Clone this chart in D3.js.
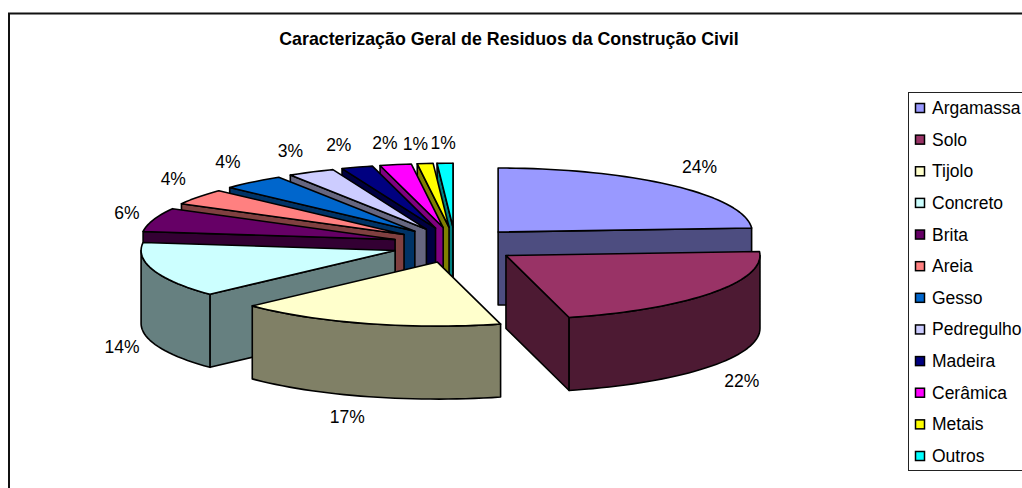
<!DOCTYPE html>
<html>
<head>
<meta charset="utf-8">
<script src="https://cdn.jsdelivr.net/npm/d3@7"></script>
<style>
  body { margin: 0; background: #fff; }
  text { font-family: "Liberation Sans", Arial, sans-serif; fill: #000; }
</style>
</head>
<body>
<div id="chart"></div>
<script>
// Chart data
const title = "Caracterização Geral de Residuos da Construção Civil";
const categories = ["Argamassa", "Solo", "Tijolo", "Concreto", "Brita", "Areia", "Gesso", "Pedregulho", "Madeira", "Cerâmica", "Metais", "Outros"];
const percents = [24, 22, 17, 14, 6, 4, 4, 3, 2, 2, 1, 1];
const colors = ["#9999FF", "#993366", "#FFFFCC", "#CCFFFF", "#660066", "#FF8080", "#0066CC", "#CCCCFF", "#000080", "#FF00FF", "#FFFF00", "#00FFFF"];

// Pie geometry
const width = 1022, height = 488;
const cx = 455, cy = 245, rx = 254, ry = 64, depth = 73;
const explodeX = 0.248, explodeY = 0.278;
const step = Math.PI / 90;

// Excel moves the crowded labels a little, these are by hand
const labelNudge = [[7, -3], [6, 3], [-11, 0], [-3, -3], [2, 0], [-1, -6], [-6, -4], [-7, -2], [-9, -2], [-5, -1], [-7, 1], [-1, 1]];

const svg = d3.select("#chart")
    .append("svg")
    .attr("width", width)
    .attr("height", height)
    .style("display", "block");

// Outer frame
svg.append("rect")
    .attr("x", 9)
    .attr("y", 13.5)
    .attr("width", width + 20)
    .attr("height", height + 20)
    .attr("fill", "#fff")
    .attr("stroke", "#111")
    .attr("stroke-width", 2);

svg.append("text")
    .attr("x", 509)
    .attr("y", 45)
    .attr("text-anchor", "middle")
    .attr("font-size", 17.8)
    .attr("font-weight", "bold")
    .text(title);

const x = d3.scaleLinear().domain([-1, 1]).range([cx - rx, cx + rx]);
const y = d3.scaleLinear().domain([-1, 1]).range([cy + ry, cy - ry]);

const pie = d3.pie().sort(null).value(d => d);
const line = d3.line();

const slices = pie(percents).map(function(d, i) {
    const mid = (d.startAngle + d.endAngle) / 2;
    return {
        i: i,
        start: d.startAngle,
        end: d.endAngle,
        mid: mid,
        // every slice is pushed out from the centre on its own
        ox: explodeX * Math.sin(mid),
        oy: explodeY * Math.cos(mid)
    };
});

function rim(s, a, z) {
    return [x(s.ox + Math.sin(a)), y(s.oy + Math.cos(a)) + (z || 0)];
}
function apex(s, z) {
    return [x(s.ox), y(s.oy) + (z || 0)];
}
function arcPoints(from, to) {
    const angles = d3.range(from, to, step);
    angles.push(to);
    return angles;
}
function shade(c) {
    const k = d3.rgb(c);
    return d3.rgb(k.r * 0.5, k.g * 0.5, k.b * 0.5).formatHex();
}

// Back slices first, the front ones paint over them
const order = slices.slice().sort((a, b) => Math.cos(b.mid) - Math.cos(a.mid));

const g = svg.append("g")
    .attr("stroke", "#000")
    .attr("stroke-width", 1.6)
    .attr("stroke-linejoin", "round");

order.forEach(function(s) {
    const dark = shade(colors[s.i]);

    // Cut faces, only the ones turned to the viewer
    const faces = [];
    if (Math.sin(s.start) < 0) faces.push(s.start);
    if (Math.sin(s.end) > 0) faces.push(s.end);
    faces.forEach(function(a) {
        g.append("path")
            .attr("fill", dark)
            .attr("d", line([apex(s), rim(s, a), rim(s, a, depth), apex(s, depth)]) + "Z");
    });

    // Outer wall, only the part facing the viewer
    const from = Math.max(s.start, Math.PI / 2);
    const to = Math.min(s.end, Math.PI * 3 / 2);
    if (to > from) {
        const angles = arcPoints(from, to);
        const pts = angles.map(a => rim(s, a)).concat(angles.slice().reverse().map(a => rim(s, a, depth)));
        g.append("path")
            .attr("fill", dark)
            .attr("d", line(pts) + "Z");
    }

    // Top face
    const top = [apex(s)].concat(arcPoints(s.start, s.end).map(a => rim(s, a)));
    g.append("path")
        .attr("fill", colors[s.i])
        .attr("d", line(top) + "Z");
});

// Percent labels
svg.append("g")
    .selectAll("text")
    .data(slices)
    .join("text")
    .attr("font-size", 17.5)
    .attr("text-anchor", "middle")
    .attr("fill", "#222")
    .attr("x", d => rim(d, d.mid)[0] + 30 * Math.sin(d.mid) + labelNudge[d.i][0])
    .attr("y", d => rim(d, d.mid, Math.cos(d.mid) < 0 ? depth : 0)[1] - 21 * Math.cos(d.mid) + 6 + labelNudge[d.i][1])
    .text(d => percents[d.i] + "%");

// Legend
const legendY = d3.scalePoint().domain(categories).range([108, 456]);

svg.append("rect")
    .attr("x", 908.5)
    .attr("y", 92.5)
    .attr("width", 140)
    .attr("height", 378)
    .attr("fill", "#fff")
    .attr("stroke", "#222")
    .attr("stroke-width", 1);

const legend = svg.append("g")
    .selectAll("g")
    .data(categories)
    .join("g")
    .attr("transform", d => `translate(0, ${legendY(d)})`);

legend.append("rect")
    .attr("x", 915.5)
    .attr("y", -4.5)
    .attr("width", 9)
    .attr("height", 9)
    .attr("fill", (d, i) => colors[i])
    .attr("stroke", "#000")
    .attr("stroke-width", 1.5);

legend.append("text")
    .attr("x", 932)
    .attr("y", 6)
    .attr("font-size", 17.5)
    .text(d => d);
</script>
</body>
</html>
